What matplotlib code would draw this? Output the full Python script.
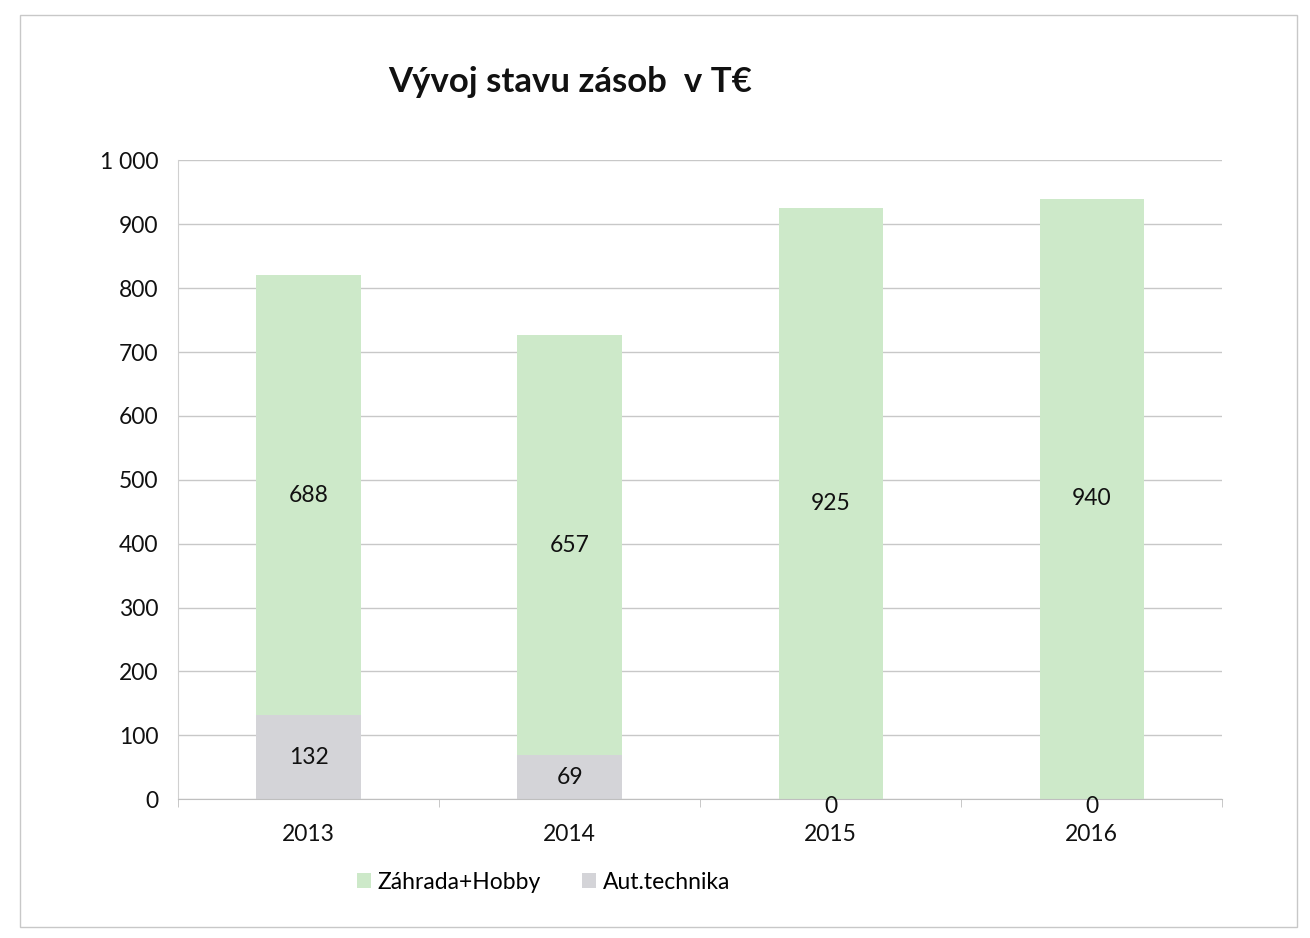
import matplotlib.pyplot as plt
import matplotlib.patches as patches
import numpy as np

# data
years = ['2013', '2014', '2015', '2016']
aut_technika = [132, 69, 0, 0]
zahrada_hobby = [688, 657, 925, 940]

green = '#cde9c9'
grey = '#d4d4d8'
plt.rcParams['font.family'] = ['Lato', 'DejaVu Sans']

fig = plt.figure(figsize=(13.1, 9.38), dpi=100)
ax = fig.add_axes([0.136, 0.148, 0.797, 0.681])

x = np.arange(len(years))
b1 = ax.bar(x, aut_technika, width=0.40, color=grey, label='Aut.technika', zorder=2)
b2 = ax.bar(x, zahrada_hobby, width=0.40, bottom=aut_technika, color=green,
            label='Záhrada+Hobby', zorder=2)

# value labels in the middle of each segment
for i in range(len(years)):
    ax.text(x[i], aut_technika[i] / 2 if aut_technika[i] else -12, str(aut_technika[i]),
            ha='center', va='center', fontsize=16.5, color='#111111', zorder=3)
    ax.text(x[i], aut_technika[i] + zahrada_hobby[i] / 2, str(zahrada_hobby[i]),
            ha='center', va='center', fontsize=16.5, color='#111111', zorder=3)

ax.set_xlim(-0.5, len(years) - 0.5)
ax.set_ylim(0, 1000)
ax.set_yticks(range(0, 1001, 100))
ax.set_yticklabels(['0', '100', '200', '300', '400', '500', '600', '700', '800', '900', '1 000'])
ax.set_xticks(x)
ax.set_xticklabels(years)
ax.set_xticks(np.arange(-0.5, len(years), 1), minor=True)
ax.tick_params(axis='x', which='major', length=0, pad=18, labelsize=16.5, labelcolor='#111111')
ax.tick_params(axis='x', which='minor', length=6, color='#bfbfbf')
ax.tick_params(axis='y', length=0, pad=14, labelsize=16.5, labelcolor='#111111')
ax.grid(axis='y', color='#c8c8c8', linewidth=1, zorder=0)

for s in ['top', 'right']:
    ax.spines[s].set_visible(False)
ax.spines['left'].set_color('#d0d0d0')
ax.spines['bottom'].set_color('#bfbfbf')

fig.text(0.435, 0.913, 'Vývoj stavu zásob  v T€', ha='center', va='center',
         fontsize=25, fontweight='bold', color='#111111')

handles = [b2, b1]
ax.legend(handles, ['Záhrada+Hobby', 'Aut.technika'], loc='center',
          bbox_to_anchor=(0.35, -0.13), ncol=2, frameon=False, fontsize=16.5,
          handlelength=0.6, handleheight=0.6, handletextpad=0.3, columnspacing=1.8)

# outer chart border
fig.patches.append(patches.Rectangle((0.015, 0.012), 0.975, 0.972, transform=fig.transFigure,
                                     fill=False, edgecolor='#c8c8c8', linewidth=1))

fig.savefig('out.png', dpi=100)
